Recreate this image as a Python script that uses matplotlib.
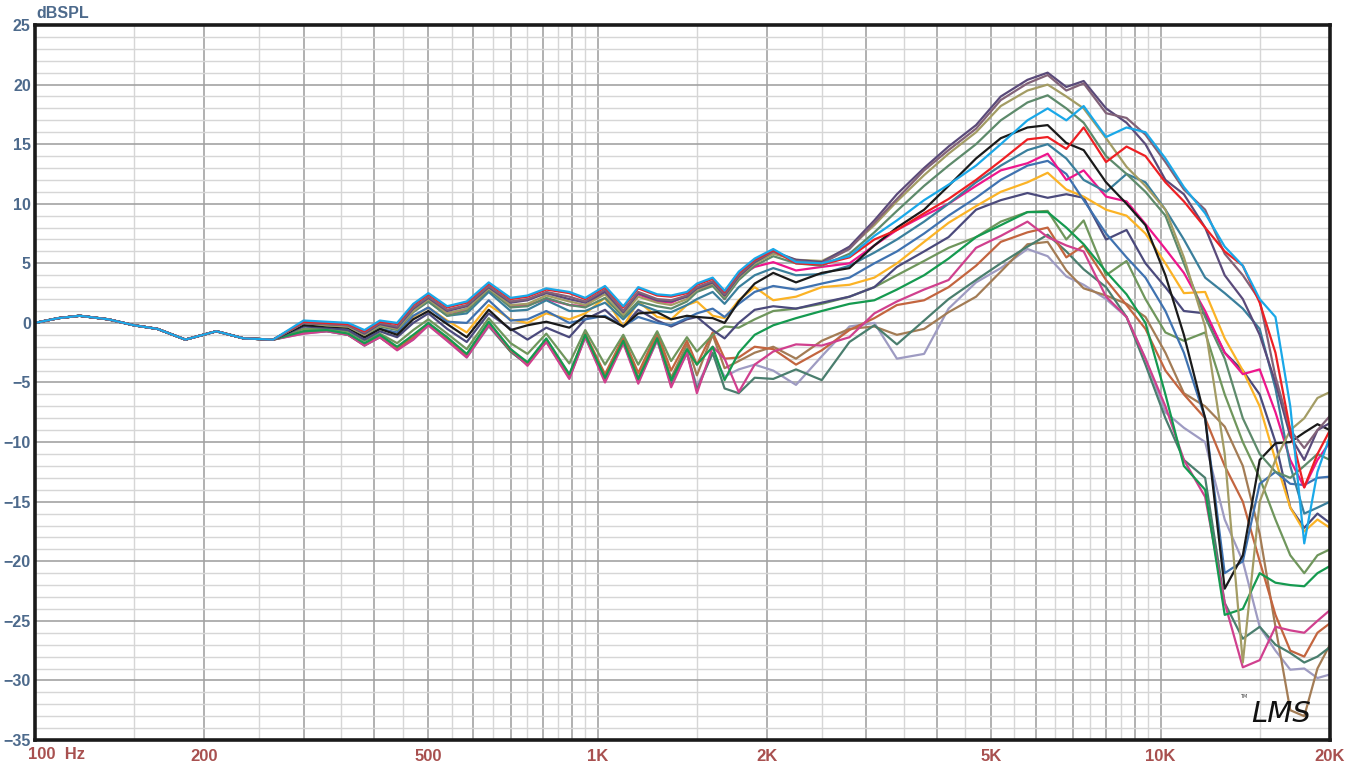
import numpy as np
import matplotlib.pyplot as plt

# общий участок до 265 Гц (все кривые почти совпадают)
freq_low = [100, 110, 120, 135, 150, 165, 185, 210, 235, 265]
level_low = [0.0, 0.4, 0.6, 0.3, -0.2, -0.5, -1.4, -0.7, -1.3, -1.4]

freq = [300, 330, 360, 385, 410, 440, 470, 500, 540, 585, 640, 700, 750, 810, 890, 950,
        1030, 1110, 1180, 1275, 1350, 1440, 1500, 1600, 1680, 1780, 1900, 2050, 2250,
        2500, 2800, 3100, 3400, 3800, 4200, 4700, 5200, 5800, 6300, 6800, 7300, 8000,
        8700, 9400, 10200, 11000, 12000, 13000, 14000, 15000, 16000, 17000, 18000,
        19000, 20000]

sky = [0.2, 0.1, 0.0, -0.6, 0.2, 0.0, 1.6, 2.5, 1.4, 1.8, 3.4, 2.1, 2.3, 2.9, 2.6, 2.1, 3.1, 1.4, 3.0,
       2.4, 2.3, 2.6, 3.3, 3.8, 2.7, 4.3, 5.4, 6.2, 5.1, 5.0, 5.6,
       7.3, 8.6, 10.3, 11.6, 13.2, 15.0, 17.0, 18.0, 17.0, 18.2, 15.6, 16.4, 16.0, 13.8, 11.4,
       9.2, 6.4, 4.8, 2.0, 0.5, -7.0, -18.5, -12.5, -9.5]
red = [0.1, 0.0, -0.1, -0.7, 0.1, -0.1, 1.5, 2.4, 1.3, 1.7, 3.3, 2.0, 2.2, 2.8, 2.5, 2.0, 3.0, 1.3, 2.9,
       2.3, 2.2, 2.5, 3.2, 3.7, 2.6, 4.2, 5.3, 6.1, 5.0, 4.9, 5.5,
       7.0, 7.8, 9.2, 10.4, 12.0, 13.6, 15.4, 15.6, 14.6, 16.4, 13.5, 14.8, 14.0, 11.8, 10.2,
       8.0, 6.0, 4.8, 1.7, -2.5, -9.0, -13.8, -11.0, -9.0]
mauve = [0.0, -0.1, -0.2, -0.8, 0.0, -0.3, 1.3, 2.2, 1.1, 1.5, 3.1, 1.8, 2.0, 2.6, 2.2, 1.8, 2.8, 1.0, 2.6,
         2.0, 1.9, 2.3, 3.0, 3.5, 2.4, 4.0, 5.2, 6.0, 5.2, 5.0, 6.2,
         8.4, 10.4, 12.8, 14.5, 16.3, 18.7, 20.1, 20.8, 19.5, 20.1, 17.6, 17.2, 15.8, 13.5, 11.2,
         9.5, 5.8, 4.0, 1.9, -4.5, -9.0, -10.5, -9.0, -7.8]
plum = [0.0, -0.1, -0.2, -0.9, -0.1, -0.4, 1.2, 2.1, 1.0, 1.4, 3.0, 1.7, 1.9, 2.5, 2.0, 1.7, 2.6, 0.9, 2.5,
        1.9, 1.8, 2.2, 2.9, 3.4, 2.3, 3.9, 5.1, 6.0, 5.3, 5.1, 6.4,
        8.6, 10.8, 13.0, 14.8, 16.6, 19.0, 20.4, 21.0, 19.8, 20.3, 18.0, 16.8, 15.0, 12.0, 10.8,
        8.0, 4.0, 2.0, -1.0, -5.0, -9.5, -11.5, -9.0, -8.4]
khaki = [0.0, -0.2, -0.3, -1.0, -0.2, -0.5, 1.0, 2.0, 0.8, 1.2, 2.9, 1.5, 1.6, 2.3, 1.8, 1.5, 2.4, 0.7, 2.2,
         1.7, 1.5, 2.0, 2.8, 3.3, 2.2, 3.8, 5.0, 5.8, 5.3, 5.2, 6.3,
         8.2, 10.2, 12.4, 14.2, 16.0, 18.2, 19.5, 20.0, 19.0, 18.0, 15.5, 13.1, 11.5, 9.5, 5.5,
         -0.3, -11.0, -28.5, -15.0, -11.5, -9.0, -8.0, -6.3, -5.8]
sage = [0.0, -0.2, -0.3, -1.0, -0.3, -0.6, 0.9, 1.8, 0.6, 1.0, 2.8, 1.3, 1.4, 2.1, 1.5, 1.3, 2.1, 0.5, 1.8,
        1.4, 1.2, 1.8, 2.6, 3.1, 2.0, 3.6, 4.8, 5.6, 5.0, 4.8, 5.8,
        7.6, 9.4, 11.5, 13.2, 15.0, 17.0, 18.5, 19.1, 18.0, 16.8, 14.0, 12.5, 11.0, 9.0, 5.0,
        0.5, -3.0, -8.0, -11.0, -12.5, -13.0, -12.0, -11.0, -11.5]
black = [-0.2, -0.3, -0.4, -1.2, -0.5, -1.0, 0.3, 1.0, -0.1, -1.2, 1.1, -0.6, -0.2, 0.1, -0.4, 0.6, 0.5, -0.3, 0.8,
         0.9, 0.3, 0.6, 0.5, 0.4, 0.0, 1.8, 3.3, 4.2, 3.4, 4.2, 4.6,
         6.5, 8.0, 9.5, 11.5, 13.8, 15.5, 16.4, 16.6, 15.1, 14.5, 11.8, 10.0, 8.2, 4.0, -1.0,
         -8.0, -22.3, -19.5, -11.5, -10.1, -10.0, -9.2, -8.5, -9.0]
teal = [0.0, -0.1, -0.3, -1.0, -0.2, -0.5, 1.0, 1.8, 0.6, 0.8, 2.6, 1.0, 1.1, 1.9, 1.0, 1.0, 1.7, 0.3, 1.6,
        1.0, 0.9, 1.5, 2.0, 2.6, 1.6, 3.0, 4.0, 4.6, 4.0, 4.1, 4.8,
        5.9, 7.0, 8.5, 10.0, 11.8, 13.2, 14.5, 15.0, 13.8, 12.0, 11.0, 12.5, 11.8, 9.5, 7.0,
        3.8, 2.5, 1.2, -0.5, -5.5, -12.0, -16.0, -15.5, -15.0]
magenta = [0.0, -0.1, -0.2, -0.9, -0.1, -0.4, 1.1, 1.9, 0.8, 1.1, 2.8, 1.4, 1.5, 2.0, 1.5, 1.4, 2.7, 1.0, 2.4,
           1.8, 1.7, 2.3, 2.8, 3.2, 2.0, 3.9, 4.7, 5.1, 4.4, 4.7, 5.0,
           6.5, 7.8, 9.0, 10.0, 11.5, 12.8, 13.4, 14.2, 12.0, 12.8, 10.6, 10.2, 8.3, 6.2, 4.2,
           1.0, -2.5, -4.3, -3.9, -7.5, -11.5, -13.8, -11.5, -10.0]
steel = [-0.2, -0.3, -0.4, -1.2, -0.5, -0.8, 0.6, 1.3, 0.1, 0.0, 1.9, 0.2, 0.3, 1.0, 0.0, 0.3, 0.6, -0.3, 0.5,
         0.0, -0.2, 0.4, 0.8, 1.2, 0.5, 1.6, 2.6, 3.1, 2.8, 3.3, 3.8,
         5.0, 6.0, 7.5, 9.0, 10.5, 12.0, 13.2, 13.6, 12.5, 10.3, 7.5, 5.5, 3.8, 1.0, -2.5,
         -8.0, -21.0, -20.0, -13.5, -12.5, -13.5, -13.6, -13.0, -12.9]
orange = [-0.1, -0.2, -0.4, -1.1, -0.5, -0.9, 0.5, 1.3, 0.2, -0.8, 1.5, 0.3, 0.0, 0.8, 0.3, 0.8, 2.1, -0.3, 1.8,
          0.5, 0.3, 1.5, 1.8, 0.6, 0.4, 1.9, 3.0, 1.9, 2.2, 3.0, 3.2,
          3.8, 5.0, 6.8, 8.4, 9.8, 11.0, 11.8, 12.6, 11.2, 10.6, 9.5, 9.0, 7.5, 5.0, 2.5,
          2.6, -1.3, -4.0, -7.0, -11.5, -15.5, -17.5, -16.5, -17.2]
slate = [-0.3, -0.4, -0.6, -1.4, -0.7, -1.2, 0.0, 0.8, -0.5, -1.6, 0.8, -0.5, -1.4, -0.4, -1.2, 0.3, 1.1, -0.3, 1.1,
         0.2, -0.3, 0.3, 0.5, -0.6, -1.3, 0.0, 1.1, 1.4, 1.2, 1.7, 2.2,
         3.0, 4.7, 6.0, 7.2, 9.5, 10.3, 10.9, 10.5, 10.8, 10.5, 7.0, 7.8, 5.0, 3.0, 1.0,
         0.8, -2.5, -4.0, -6.0, -10.0, -15.5, -17.2, -16.0, -16.8]
green = [-0.7, -0.6, -0.9, -1.7, -1.0, -2.0, -1.0, 0.0, -1.2, -2.6, 0.1, -2.2, -3.3, -1.3, -4.3, -1.0, -4.6, -1.5, -4.7,
         -1.3, -4.8, -2.2, -3.5, -2.0, -4.8, -2.5, -1.0, -0.2, 0.4, 1.0, 1.6,
         1.9, 2.8, 4.0, 5.4, 7.2, 8.2, 9.3, 9.3, 8.0, 6.6, 4.3, 2.4, 0.0, -6.0, -12.0,
         -14.0, -24.5, -24.0, -21.0, -21.8, -22.0, -22.1, -21.0, -20.4]
olive = [-0.5, -0.5, -0.7, -1.5, -0.9, -1.7, -0.6, 0.3, -0.9, -2.2, 0.4, -1.7, -2.6, -0.9, -3.4, -0.6, -3.5, -1.0, -3.5,
         -0.7, -3.2, -1.2, -2.4, -1.0, -0.3, -0.4, 0.3, 1.0, 1.2, 1.6, 2.2,
         3.0, 4.0, 5.2, 6.3, 7.2, 8.5, 9.3, 9.4, 7.0, 8.6, 4.0, 5.2, 2.0, -0.8, -1.5,
         -0.8, -6.0, -10.0, -13.0, -16.5, -19.5, -21.0, -19.5, -19.0]
pink = [-0.9, -0.7, -1.0, -1.9, -1.2, -2.3, -1.4, -0.2, -1.5, -2.9, -0.2, -2.2, -3.6, -1.6, -4.7, -1.2, -5.0, -1.7, -5.1,
        -1.4, -5.4, -2.5, -5.9, -2.0, -3.0, -5.8, -3.5, -2.4, -1.8, -1.9, -1.2,
        0.8, 1.8, 2.8, 3.6, 6.3, 7.3, 8.5, 7.2, 6.5, 6.0, 2.2, 0.5, -3.0, -7.0, -11.5,
        -14.6, -23.5, -28.9, -28.3, -25.5, -25.8, -26.0, -25.0, -24.1]
rust = [-0.7, -0.6, -0.9, -1.8, -1.1, -2.1, -1.2, -0.1, -1.3, -2.7, -0.1, -2.3, -3.4, -1.4, -4.4, -0.9, -4.3, -1.2, -4.2,
        -0.8, -4.0, -1.5, -3.5, -0.8, -3.0, -2.9, -2.0, -2.2, -3.5, -2.3, -0.6,
        0.4, 1.5, 1.9, 3.0, 4.8, 6.8, 7.6, 8.0, 5.5, 6.5, 3.6, 1.5, -0.5, -4.0, -6.0,
        -8.0, -12.0, -15.0, -20.0, -24.5, -27.5, -28.0, -26.0, -25.2]
tealgreen = [-0.8, -0.7, -1.0, -1.9, -1.2, -2.2, -1.3, -0.1, -1.4, -2.8, -0.2, -2.4, -3.5, -1.5, -4.6, -1.1, -4.8, -1.6, -4.9,
             -1.3, -5.2, -2.4, -5.6, -2.5, -5.5, -5.9, -4.6, -4.7, -3.9, -4.8, -1.6,
             -0.2, -1.8, 0.2, 2.0, 3.6, 5.0, 6.4, 7.4, 6.0, 4.5, 3.0, 0.5, -3.5, -8.0, -11.5,
             -13.0, -23.5, -26.5, -25.5, -27.0, -27.7, -28.5, -28.0, -27.2]
brown = [-0.8, -0.6, -1.0, -1.8, -1.2, -2.2, -1.3, -0.1, -1.4, -2.8, -0.2, -2.4, -3.5, -1.5, -4.5, -1.1, -4.6, -1.4, -4.6,
         -1.0, -4.6, -1.8, -4.4, -1.0, -3.8, -3.2, -2.5, -2.0, -3.0, -1.5, -0.5,
         -0.3, -1.0, -0.5, 0.9, 2.2, 4.3, 6.6, 6.8, 4.4, 2.9, 2.3, 1.6, 0.5, -2.5, -5.9,
         -7.0, -8.7, -12.0, -17.7, -25.5, -32.5, -33.0, -29.0, -27.0]
lavender = [-0.9, -0.7, -1.0, -1.8, -1.2, -2.2, -1.4, -0.2, -1.5, -2.9, -0.3, -2.4, -3.5, -1.6, -4.6, -1.2, -4.8, -1.6, -4.9,
            -1.5, -5.0, -2.6, -5.3, -2.6, -4.5, -3.9, -3.5, -4.0, -5.2, -2.8, -0.3,
            0.0, -3.0, -2.6, 1.2, 3.4, 4.6, 6.2, 5.6, 3.9, 3.2, 2.0, 0.5, -3.0, -7.5, -8.8,
            -10.0, -16.5, -20.0, -25.5, -27.5, -29.1, -29.0, -29.8, -29.5]

# снизу вверх: последние рисуются поверх
curves = [
    (lavender, '#9e9bc2'), (brown, '#a37c55'), (tealgreen, '#4a7e6e'), (rust, '#c3653f'),
    (pink, '#d0408e'), (olive, '#6f965c'), (green, '#159a50'), (slate, '#4b4a7c'),
    (orange, '#fbb326'), (steel, '#3f72b0'), (magenta, '#ee168c'), (teal, '#3a7f9c'),
    (black, '#1a1a1a'), (sage, '#5d8a6b'), (khaki, '#a39c64'), (plum, '#5a4a7a'),
    (mauve, '#826278'), (red, '#ee2024'), (sky, '#1aa8e8'),
]

W, H = 1356, 767
fig = plt.figure(figsize=(W / 100, H / 100), dpi=100)
ax = fig.add_axes([35 / W, 27 / H, 1295 / W, 715 / H])

for vals, col in curves:
    ax.plot(freq_low + freq, level_low + vals, color=col, lw=1.6, solid_joinstyle='round')

ax.set_xscale('log')
ax.set_xlim(100, 20000)
ax.set_ylim(-35, 25)

major_x = list(range(100, 1000, 100)) + list(range(1000, 10000, 1000)) + [10000, 20000]
minor_x = list(range(150, 1000, 100)) + list(range(1500, 10000, 1000)) + [15000]
ax.set_xticks(major_x)
ax.set_xticks(minor_x, minor=True)
ax.set_yticks(range(-35, 26, 5))
ax.set_yticks(range(-35, 26, 1), minor=True)
ax.grid(which='major', color='#a3a3a3', lw=1.2)
ax.grid(which='minor', color='#d6d6d6', lw=1.0)
ax.set_axisbelow(True)
ax.tick_params(which='both', length=0, labelbottom=False)
ax.tick_params(axis='y', labelsize=11.5, labelcolor='#4d6a8c', pad=3)
for lab in ax.get_yticklabels():
    lab.set_fontweight('bold')
    lab.set_family('Liberation Sans')
for s in ax.spines.values():
    s.set_linewidth(2.6)
    s.set_color('#1a1a1a')

xlab_color = '#a8504f'
xlabels = [(200, '200'), (500, '500'), (1000, '1K'), (2000, '2K'), (5000, '5K'),
           (10000, '10K'), (20000, '20K')]
trans = ax.get_xaxis_transform()
for f, t in xlabels:
    ax.text(f, -0.012, t, transform=trans, ha='center', va='top', fontsize=12,
            fontweight='bold', color=xlab_color, family='Liberation Sans')
fig.text(28 / W, 1 - 747 / H, '100  Hz', ha='left', va='top', fontsize=12,
         fontweight='bold', color=xlab_color, family='Liberation Sans')
fig.text(36 / W, 1 - 18 / H, 'dBSPL', ha='left', va='baseline', fontsize=11.5,
         fontweight='bold', color='#4d6a8c', family='Liberation Sans')

# логотип
fig.text(1281 / W, 1 - 714 / H, 'LMS', ha='center', va='center', fontsize=21,
         style='italic', color='#111111', family='DejaVu Sans')
fig.text(1244 / W, 1 - 697 / H, 'TM', ha='center', va='center', fontsize=3.5, color='#333333')

plt.savefig('out.png', dpi=100)
